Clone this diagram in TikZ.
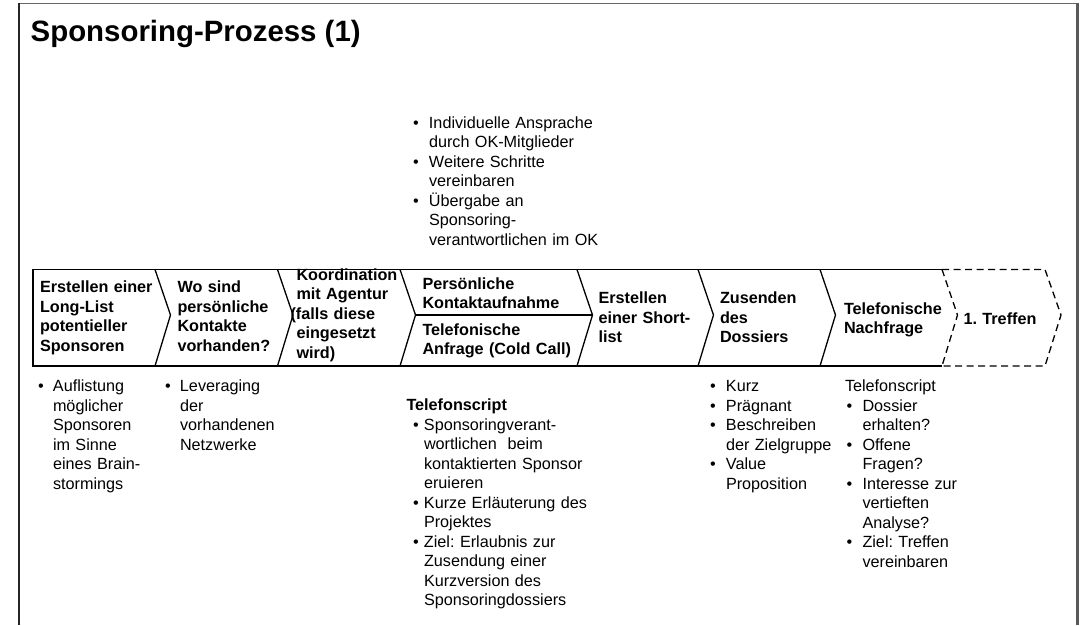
\documentclass[tikz,border=0pt]{standalone}
\usepackage{fontspec}
\setmainfont{Liberation Sans}
\frenchspacing
\newcommand{\bulat}[1]{\makebox[#1][l]{\textbullet}}
\newcommand{\indat}[1]{\hspace*{#1}}
\begin{document}
\begin{tikzpicture}[x=1pt,y=-1pt,
  chevline/.style={line width=1.3pt, line join=miter},
  dashline/.style={line width=1.3pt, dash pattern=on 7pt off 4.5pt},
  lbl/.style={anchor=base west, inner sep=0pt, outer sep=0pt, text width=220pt, align=left, font=\frenchspacing\bfseries\fontsize{16.2}{19.5}\selectfont},
  txt/.style={anchor=base west, inner sep=0pt, outer sep=0pt, text width=260pt, align=left, font=\frenchspacing\fontsize{16.2}{19.55}\selectfont},
]
\useasboundingbox (0,0) rectangle (1084,625);
% slide frame
\draw[black!60, line width=1pt] (19,3) -- (1077.5,3);
\draw[black!85, line width=1.8pt] (19,2.5) -- (19,625);
\draw[black!65, line width=2.5pt] (1077.5,2.5) -- (1077.5,625);

% title
\node[anchor=base west, inner sep=0pt, font=\bfseries\fontsize{29.4}{35}\selectfont] (title) at (30.5,41.5) {Sponsoring-Prozess (1)};

% chevron band
\coordinate (lt) at (33,269.5);
\coordinate (lb) at (33,366);
\coordinate (st) at (942,269.5);
\coordinate (sb) at (942,366);
\draw[chevline] (st) -- (lt) -- (lb) -- (sb);
\foreach \bx [count=\i] in {155,277.5,400,577,698,820}{
  \draw[chevline] (\bx,269.5) -- (\bx+15.5,315) -- (\bx,366);
}
\coordinate (s1) at (415.5,315);
\coordinate (s2) at (592.5,315);
\draw[chevline] (s1) -- (s2);
% dashed last step
\coordinate (dt) at (1045,269.5);
\coordinate (dm) at (1061,315);
\coordinate (db) at (1045,366);
\draw[dashline] (st) -- (dt) -- (dm) -- (db) -- (sb);
\draw[dashline] (st) -- (957.5,315) -- (sb);

% step labels
\node[lbl] (c1) at (40,292.5) {Erstellen einer\\Long-List\\potentieller\\Sponsoren};
\node[lbl] (c2) at (177.5,292.5) {Wo sind\\persönliche\\Kontakte\\vorhanden?};
\node[lbl] (c3) at (296.5,280) {Koordination\\mit Agentur\\\hspace*{-6pt}(falls diese\\eingesetzt\\wird)};
\node[lbl] (c4a) at (422.5,289) {Persönliche\\Kontaktaufnahme};
\node[lbl] (c4b) at (422.5,335) {Telefonische\\Anfrage (Cold Call)};
\node[lbl] (c5) at (598.5,303.5) {Erstellen\\einer Short-\\list};
\node[lbl] (c6) at (720,303.5) {Zusenden\\des\\Dossiers};
\node[lbl] (c7) at (844,314) {Telefonische\\Nachfrage};
\node[lbl] (c8) at (963.5,324) {1. Treffen};

% top bullets
\node[txt] (top) at (413,128) {\bulat{16pt}Individuelle Ansprache\\\indat{16pt}durch OK-Mitglieder\\\bulat{16pt}Weitere Schritte\\\indat{16pt}vereinbaren\\\bulat{16pt}Übergabe an\\\indat{16pt}Sponsoring-\\\indat{16pt}verantwortlichen im OK};

% bottom bullets
\node[txt] (b1) at (38,391.5) {\bulat{15pt}Auflistung\\\indat{15pt}möglicher\\\indat{15pt}Sponsoren\\\indat{15pt}im Sinne\\\indat{15pt}eines Brain-\\\indat{15pt}stormings};
\node[txt] (b2) at (165,391.5) {\bulat{15pt}Leveraging\\\indat{15pt}der\\\indat{15pt}vorhandenen\\\indat{15pt}Netzwerke};
\node[txt] (b3h) at (406.5,410.5) {\bfseries Telefonscript};
\node[txt] (b3) at (413,430) {\bulat{11pt}Sponsoringverant-\\\indat{11pt}wortlichen\ \ beim\\\indat{11pt}kontaktierten Sponsor\\\indat{11pt}eruieren\\\bulat{11pt}Kurze Erläuterung des\\\indat{11pt}Projektes\\\bulat{11pt}Ziel: Erlaubnis zur\\\indat{11pt}Zusendung einer\\\indat{11pt}Kurzversion des\\\indat{11pt}Sponsoringdossiers};
\node[txt] (b4) at (710,391.5) {\bulat{16pt}Kurz\\\bulat{16pt}Prägnant\\\bulat{16pt}Beschreiben\\\indat{16pt}der Zielgruppe\\\bulat{16pt}Value\\\indat{16pt}Proposition};
\node[txt] (b5) at (845,391.5) {Telefonscript\\\indat{1.5pt}\bulat{16pt}Dossier\\\indat{17.5pt}erhalten?\\\indat{1.5pt}\bulat{16pt}Offene\\\indat{17.5pt}Fragen?\\\indat{1.5pt}\bulat{16pt}Interesse zur\\\indat{17.5pt}vertieften\\\indat{17.5pt}Analyse?\\\indat{1.5pt}\bulat{16pt}Ziel: Treffen\\\indat{17.5pt}vereinbaren};
\end{tikzpicture}
\end{document}
